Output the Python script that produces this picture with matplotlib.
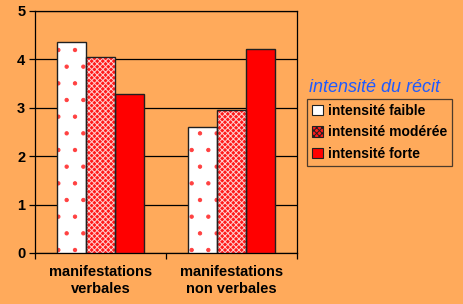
import matplotlib.pyplot as plt
import numpy as np
from matplotlib.patches import Patch

plt.rcParams['font.family'] = ['Liberation Sans', 'DejaVu Sans']
plt.rcParams['hatch.linewidth'] = 0.7

categories = ['manifestations\nverbales', 'manifestations\nnon verbales']
series = ['intensité faible', 'intensité modérée', 'intensité forte']
faible = [4.35, 2.60]
moderee = [4.04, 2.95]
forte = [3.29, 4.22]
values = [faible, moderee, forte]

bg = '#FFAA5B'
faces = ['white', '#FF1A1A', '#FF0000']
hatches = ['.', 'xxxxxx', None]
hatch_cols = ['#FF4040', '#FFD0D0', '#FF0000']

fig = plt.figure(figsize=(4.63, 3.04), dpi=100, facecolor=bg)
ax = fig.add_axes([0.0756, 0.168, 0.5655, 0.796])
ax.set_facecolor(bg)

x = np.arange(len(categories))
w = 0.22
for i, vals in enumerate(values):
    pos = x + (i - 1) * w
    ax.bar(pos, vals, w, color=faces[i], hatch=hatches[i],
           edgecolor=hatch_cols[i], linewidth=0, zorder=3)
    ax.bar(pos, vals, w, fill=False, edgecolor='#202020',
           linewidth=1.0, zorder=4)

ax.set_xlim(-0.5, 1.5)
ax.set_ylim(0, 5)
ax.set_yticks(range(6))
ax.yaxis.grid(True, color='black', linewidth=0.9, zorder=1)
ax.set_axisbelow(True)
for s in ax.spines.values():
    s.set_color('black')
    s.set_linewidth(0.9)

ax.set_xticks(x)
ax.set_xticklabels(categories, fontsize=10.5, fontweight='bold')
ax.set_xticks([-0.5, 0.5, 1.5], minor=True)
ax.tick_params(axis='x', which='major', length=0, pad=9)
ax.tick_params(axis='x', which='minor', length=4, width=0.9, direction='out')
ax.tick_params(axis='y', length=4, width=0.9, direction='out', pad=3)
for lab in ax.get_yticklabels():
    lab.set_fontsize(10.5)
    lab.set_fontweight('bold')

handles = [Patch(facecolor=faces[i], hatch=hatches[i], edgecolor='#202020',
                 linewidth=0.8) for i in range(3)]
fig.text(0.668, 0.713, 'intensité du récit', color='#1E5AFF',
         fontsize=13, style='italic', va='center', ha='left')
leg = fig.legend(handles, series, loc='upper left',
                 bbox_to_anchor=(0.664, 0.675), frameon=True,
                 fancybox=False, edgecolor='#202020', facecolor=bg,
                 prop={'size': 10, 'weight': 'bold'},
                 handlelength=0.8, handleheight=0.8, handletextpad=0.3,
                 borderpad=0.35, labelspacing=0.55, borderaxespad=0)
leg.get_frame().set_linewidth(0.9)

plt.savefig('out.png', dpi=100, facecolor=bg)
